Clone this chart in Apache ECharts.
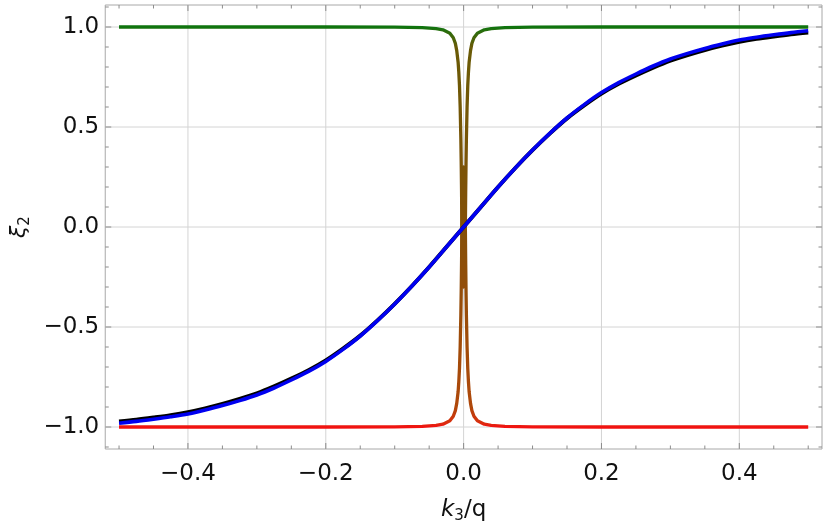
<!DOCTYPE html>
<html><head><meta charset="utf-8">
<script src="https://cdn.jsdelivr.net/npm/echarts@6/dist/echarts.min.js"></script>
<style>html,body{margin:0;padding:0;background:#fff}#c{width:830px;height:529px}</style>
</head><body><div id="c"></div>
<script>
// ---- data ----
const kSmooth = [-0.5,-0.475,-0.45,-0.425,-0.4,-0.375,-0.35,-0.325,-0.3,-0.275,-0.25,-0.225,-0.2,-0.175,-0.15,-0.125,-0.1,-0.075,-0.05,-0.025,0,
  0.025,0.05,0.075,0.1,0.125,0.15,0.175,0.2,0.225,0.25,0.275,0.3,0.325,0.35,0.375,0.4,0.425,0.45,0.475,0.5];
const blueVals = [-0.981,-0.972,-0.961,-0.949,-0.935,-0.915,-0.893,-0.868,-0.840,-0.805,-0.765,-0.722,-0.672,-0.612,-0.545,-0.468,-0.385,-0.295,-0.200,-0.100,0,
  0.100,0.200,0.295,0.385,0.468,0.545,0.612,0.672,0.722,0.765,0.805,0.840,0.868,0.893,0.915,0.935,0.949,0.961,0.972,0.981];
const blackVals = [-0.973,-0.964,-0.953,-0.941,-0.926,-0.907,-0.885,-0.860,-0.832,-0.797,-0.758,-0.716,-0.667,-0.608,-0.543,-0.467,-0.384,-0.295,-0.200,-0.100,0,
  0.100,0.200,0.295,0.384,0.467,0.543,0.608,0.667,0.716,0.758,0.797,0.832,0.860,0.885,0.907,0.926,0.941,0.953,0.964,0.973];
const kDip = [-0.5,-0.2,-0.1,-0.06,-0.04,-0.03,-0.02,-0.015,-0.012,-0.01,-0.008,-0.007,-0.006,-0.005,-0.004,-0.0035,-0.003,-0.0025,-0.002,0,
  0.002,0.0025,0.003,0.0035,0.004,0.005,0.006,0.007,0.008,0.01,0.012,0.015,0.02,0.03,0.04,0.06,0.1,0.2,0.5];
const greenVals = [1,1,0.999,0.997,0.992,0.986,0.969,0.946,0.918,0.882,0.824,0.774,0.707,0.600,0.438,0.324,0.180,0.000,-0.200,-0.300,
  -0.200,0.000,0.180,0.324,0.438,0.600,0.707,0.774,0.824,0.882,0.918,0.946,0.969,0.986,0.992,0.997,0.999,1,1];
const redVals = [-1,-1,-0.999,-0.997,-0.992,-0.986,-0.969,-0.946,-0.918,-0.882,-0.824,-0.774,-0.707,-0.600,-0.438,-0.324,-0.180,0.000,0.200,0.300,
  0.200,0.000,-0.180,-0.324,-0.438,-0.600,-0.707,-0.774,-0.824,-0.882,-0.918,-0.946,-0.969,-0.986,-0.992,-0.997,-0.999,-1,-1];
const xMajor = [-0.4,-0.2,0,0.2,0.4];
const xMinor = [-0.5,-0.45,-0.35,-0.3,-0.25,-0.15,-0.1,-0.05,0.05,0.1,0.15,0.25,0.3,0.35,0.45,0.5];
const yMajor = [-1,-0.5,0,0.5,1];
const yMinor = [-1.1,-0.9,-0.8,-0.7,-0.6,-0.4,-0.3,-0.2,-0.1,0.1,0.2,0.3,0.4,0.6,0.7,0.8,0.9,1.1];
const X_MIN = -0.52, X_MAX = 0.52, Y_MIN = -1.11, Y_MAX = 1.11;

// ---- styling helpers ----
const anchors = [[-1,[242,17,17]],[-0.975,[215,50,14]],[-0.9,[175,72,10]],[0,[132,80,8]],[0.9,[105,90,6]],[0.975,[45,108,12]],[1,[14,116,14]]];
function colAt(y){
  for (let i=1;i<anchors.length;i++){
    if (y <= anchors[i][0] + 1e-9){
      const [y0,c0]=anchors[i-1],[y1,c1]=anchors[i];
      const t=(y-y0)/(y1-y0);
      const c=c0.map((v,j)=>Math.round(v+(c1[j]-v)*t));
      return 'rgb('+c.join(',')+')';
    }
  }
  return 'rgb(14,116,14)';
}
const colorStops=[]; for(let i=0;i<=200;i++) colorStops.push(colAt(-1+i*0.01));

const zip=(a,b)=>a.map((v,i)=>[v,b[i]]);
const tickData = [];
xMajor.forEach(v=>tickData.push([v,0,1]));
xMinor.forEach(v=>tickData.push([v,0,0]));
yMajor.forEach(v=>tickData.push([0,v,3]));
yMinor.forEach(v=>tickData.push([0,v,2]));

const isMult=(v,s)=>Math.abs(v/s-Math.round(v/s))<1e-6;
const fmt=(v)=>{const s=(Math.abs(v)<1e-9?0:v).toFixed(1);return s.replace('-','\u2212');};

const chart = echarts.init(document.getElementById('c'), null, {renderer:'canvas'});
const font = 'DejaVu Sans';
chart.setOption({
  animation:false,
  backgroundColor:'#fff',
  grid:{left:98,right:8,top:5,bottom:76,show:true,borderColor:'#a8a8a8',borderWidth:1,backgroundColor:'transparent'},
  xAxis:{type:'value',min:X_MIN,max:X_MAX,interval:0.01,
    axisLine:{show:false},axisTick:{show:false},splitLine:{show:false},
    axisLabel:{fontFamily:font,fontSize:23,color:'#111',margin:14,
      formatter:v=>isMult(v,0.2)?fmt(v):''},
    name:'{i|k}{s|3}{n|/q}',nameLocation:'middle',nameGap:48,
    nameTextStyle:{rich:{
      i:{fontFamily:font,fontSize:23,fontStyle:'italic',color:'#111'},
      s:{fontFamily:font,fontSize:15,color:'#111',padding:[12,0,0,0]},
      n:{fontFamily:font,fontSize:23,color:'#111'}}}},
  yAxis:{type:'value',min:Y_MIN,max:Y_MAX,interval:0.01,
    axisLine:{show:false},axisTick:{show:false},splitLine:{show:false},
    axisLabel:{fontFamily:font,fontSize:23,color:'#111',margin:6,
      formatter:v=>isMult(v,0.5)?fmt(v):''},
    name:'{i|\u03be}{s|2}',nameLocation:'middle',nameGap:57,nameRotate:90,
    nameTextStyle:{rich:{
      i:{fontFamily:font,fontSize:22,fontStyle:'italic',color:'#111'},
      s:{fontFamily:font,fontSize:15,color:'#111',padding:[12,0,0,0]}}}},
  visualMap:[{type:'continuous',show:false,dimension:1,seriesIndex:[1,2],min:-1,max:1,
    inRange:{color:colorStops},outOfRange:{color:'#999'}}],
  series:[
    {type:'custom',z:1,silent:true,clip:false,data:tickData,
      renderItem:(params,api)=>{
        const kind=api.value(2);
        const grid='#d4d4d4', tk='#8c8c8c';
        const ch=[];
        if(kind<2){
          const v=api.value(0);
          const b=api.coord([v,Y_MIN]), t=api.coord([v,Y_MAX]);
          const L = kind===1?6:3.5;
          if(kind===1) ch.push({type:'line',shape:{x1:b[0],y1:b[1],x2:t[0],y2:t[1]},style:{stroke:grid,lineWidth:1}});
          ch.push({type:'line',shape:{x1:b[0],y1:b[1],x2:b[0],y2:b[1]-L},style:{stroke:tk,lineWidth:1}});
          ch.push({type:'line',shape:{x1:t[0],y1:t[1],x2:t[0],y2:t[1]+L},style:{stroke:tk,lineWidth:1}});
        } else {
          const v=api.value(1);
          const l=api.coord([X_MIN,v]), r=api.coord([X_MAX,v]);
          const L = kind===3?6:3.5;
          if(kind===3) ch.push({type:'line',shape:{x1:l[0],y1:l[1],x2:r[0],y2:r[1]},style:{stroke:grid,lineWidth:1}});
          ch.push({type:'line',shape:{x1:l[0],y1:l[1],x2:l[0]+L,y2:l[1]},style:{stroke:tk,lineWidth:1}});
          ch.push({type:'line',shape:{x1:r[0],y1:r[1],x2:r[0]-L,y2:r[1]},style:{stroke:tk,lineWidth:1}});
        }
        return {type:'group',children:ch};
      }},
    {type:'line',name:'green',data:zip(kDip,greenVals),showSymbol:false,symbol:'none',lineStyle:{width:3.3,join:'round'},z:2},
    {type:'line',name:'red',data:zip(kDip,redVals),showSymbol:false,symbol:'none',lineStyle:{width:3.3,join:'round'},z:2},
    {type:'line',name:'black',data:zip(kSmooth,blackVals),smooth:0.3,showSymbol:false,symbol:'none',lineStyle:{width:4,color:'#000'},z:3},
    {type:'line',name:'blue',data:zip(kSmooth,blueVals),smooth:0.3,showSymbol:false,symbol:'none',lineStyle:{width:3.6,color:'#0000f0'},z:4}
  ]
});
</script></body></html>
